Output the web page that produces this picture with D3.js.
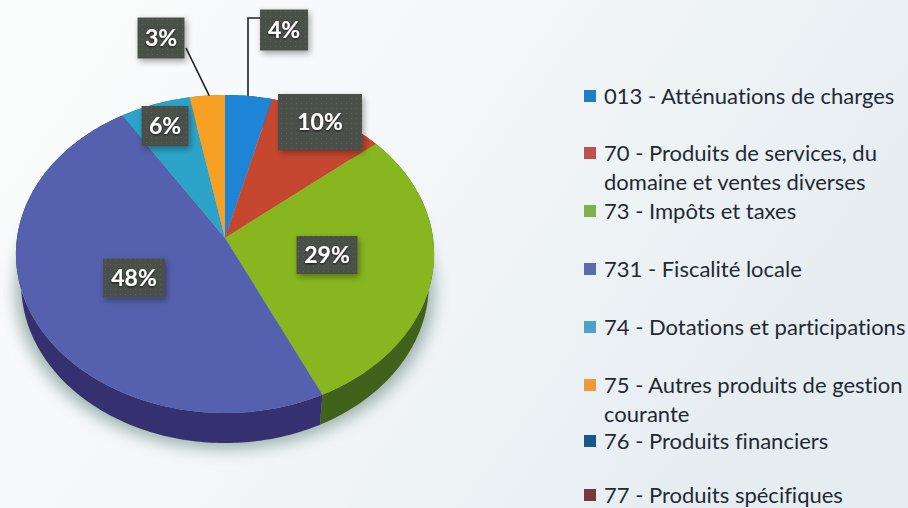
<!DOCTYPE html>
<html>
<head>
<meta charset="utf-8">
<script src="https://cdn.jsdelivr.net/npm/d3@7"></script>
<style>
  html, body { margin: 0; padding: 0; background: #f1f5f6; }
  svg { display: block; }
  text { font-family: Lato, "Open Sans", sans-serif; font-variant-ligatures: none; }
</style>
</head>
<body>
<svg></svg>
<script>
var categories = [
  ["013 - Atténuations de charges"],
  ["70 - Produits de services, du", "domaine et ventes diverses"],
  ["73 - Impôts et taxes"],
  ["731 - Fiscalité locale"],
  ["74 - Dotations et participations"],
  ["75 - Autres produits de gestion", "courante"],
  ["76 - Produits financiers"],
  ["77 - Produits spécifiques"]
];
var values = [4, 10, 29, 48, 6, 3, 0, 0];

var topColors = ["#1e84d6", "#c6472f", "#87b61f", "#5560ae", "#2ca3c9", "#f6a123", "#17598c", "#7a3b38"];
var sideColors = ["#155f9c", "#8a3020", "#41621a", "#35306f", "#1e7390", "#b0701a", "#0f3d60", "#552826"];
var legendColors = ["#1f7fc4", "#c0504d", "#7fb24a", "#5a6bb0", "#4ba3cc", "#ee9a3a", "#17598c", "#7a3b38"];

// label boxes, same order as the slices: centre x, centre y, w, h
var labelBoxes = [
  [284, 30, 48, 41],
  [320, 122, 84, 56],
  [327, 255, 61, 38],
  [134, 278, 62, 39],
  [165, 126, 47, 40],
  [161, 38, 47, 41]
];
var legendY = [96, 153, 211, 269, 327, 385, 441, 495];

var svg = d3.select("svg").attr("width", 908).attr("height", 508);
var defs = svg.append("defs");

var bg = defs.append("linearGradient").attr("id", "bg")
  .attr("x1", 0).attr("y1", 0).attr("x2", 1).attr("y2", 0.4);
bg.append("stop").attr("offset", "0%").attr("stop-color", "#fbfcfc");
bg.append("stop").attr("offset", "45%").attr("stop-color", "#f5f8f9");
bg.append("stop").attr("offset", "100%").attr("stop-color", "#e6edf1");

defs.append("filter").attr("id", "soft")
  .attr("x", "-20%").attr("y", "-20%").attr("width", "140%").attr("height", "140%")
  .append("feGaussianBlur").attr("stdDeviation", 8);

var boxShadow = defs.append("filter").attr("id", "boxShadow")
  .attr("x", "-30%").attr("y", "-30%").attr("width", "160%").attr("height", "160%");
boxShadow.append("feDropShadow").attr("dx", 2).attr("dy", 3)
  .attr("stdDeviation", 3).attr("flood-color", "#000").attr("flood-opacity", 0.35);

var txtShadow = defs.append("filter").attr("id", "txtShadow")
  .attr("x", "-30%").attr("y", "-30%").attr("width", "160%").attr("height", "160%");
txtShadow.append("feDropShadow").attr("dx", 0).attr("dy", 1)
  .attr("stdDeviation", 0.8).attr("flood-color", "#000").attr("flood-opacity", 0.7);

var dots = defs.append("pattern").attr("id", "dots")
  .attr("width", 5).attr("height", 5).attr("patternUnits", "userSpaceOnUse");
dots.append("rect").attr("width", 5).attr("height", 5).attr("fill", "#4a4f48");
dots.append("circle").attr("cx", 1.5).attr("cy", 1.5).attr("r", 0.7).attr("fill", "#5c6159");

svg.append("rect").attr("width", 908).attr("height", 508).attr("fill", "url(#bg)");

// the pie is seen in perspective: the centre of the slices sits above the centre of the outline
var apex = [225, 238], depth = 30, lowerShrink = 0.975;
var tilt = -0.1006, yScale = 157.4, xScale = 208;

function rim(angle) {
  var u = Math.sin(angle), v = -Math.cos(angle), w = 1 + tilt * v;
  return [apex[0] + xScale * u / w, apex[1] + yScale * v / w];
}
function rimPoints(a0, a1) {
  var n = Math.max(2, Math.ceil((a1 - a0) * 60));
  return d3.range(n + 1).map(function(i) { return rim(a0 + (a1 - a0) * i / n); });
}
function lowerPoint(p) {
  return [apex[0] + (p[0] - apex[0]) * lowerShrink, p[1] + depth];
}

var line = d3.line();
var arcs = d3.pie().sort(null).value(function(d) { return d; })(values);
var visible = arcs.filter(function(d) { return d.value > 0; });

// shadow under the pie
svg.append("path")
  .attr("d", line(rimPoints(0, 2 * Math.PI)) + "Z")
  .attr("transform", "translate(0," + (depth + 6) + ")")
  .attr("fill", "#7f9a94")
  .attr("opacity", 0.75)
  .attr("filter", "url(#soft)");

svg.append("g").selectAll("path")
  .data(visible)
  .enter()
  .append("path")
  .attr("d", function(d) {
    var pts = rimPoints(d.startAngle, d.endAngle);
    return line(pts.concat(pts.map(lowerPoint).reverse())) + "Z";
  })
  .attr("fill", function(d) { return sideColors[d.index]; });

svg.append("g").selectAll("path")
  .data(visible)
  .enter()
  .append("path")
  .attr("d", function(d) {
    return line([apex].concat(rimPoints(d.startAngle, d.endAngle))) + "Z";
  })
  .attr("fill", function(d) { return topColors[d.index]; });

// leader lines for the two small slices
var leaders = svg.append("g").attr("fill", "none").attr("stroke", "#1c2320").attr("stroke-width", 1.6);
var top3 = rim((arcs[5].startAngle + arcs[5].endAngle) / 2);
var top4 = rim((arcs[0].startAngle + arcs[0].endAngle) / 2);
leaders.append("path").attr("d", line([[186, 48], [top3[0] + 2, top3[1]]]));
leaders.append("path").attr("d", line([[260, 18], [248, 18], [248, top4[1]]]));

var labels = svg.append("g").selectAll("g")
  .data(visible)
  .enter()
  .append("g")
  .attr("transform", function(d) {
    var b = labelBoxes[d.index];
    return "translate(" + b[0] + "," + b[1] + ")";
  });

labels.append("rect")
  .attr("x", function(d) { return -labelBoxes[d.index][2] / 2; })
  .attr("y", function(d) { return -labelBoxes[d.index][3] / 2; })
  .attr("width", function(d) { return labelBoxes[d.index][2]; })
  .attr("height", function(d) { return labelBoxes[d.index][3]; })
  .attr("fill", "url(#dots)")
  .attr("filter", "url(#boxShadow)");

labels.append("text")
  .attr("text-anchor", "middle")
  .attr("dy", "0.36em")
  .attr("font-size", 23)
  .attr("font-weight", 700)
  .attr("fill", "#fff")
  .attr("filter", "url(#txtShadow)")
  .text(function(d) { return d.value + "%"; });

// legend
var legend = svg.append("g").selectAll("g")
  .data(categories)
  .enter()
  .append("g")
  .attr("transform", function(d, i) { return "translate(584," + legendY[i] + ")"; });

legend.append("rect")
  .attr("y", -6)
  .attr("width", 12)
  .attr("height", 12)
  .attr("fill", function(d, i) { return legendColors[i]; });

legend.selectAll("text")
  .data(function(d) { return d; })
  .enter()
  .append("text")
  .attr("x", 20)
  .attr("y", function(d, i) { return i * 29; })
  .attr("dy", "0.35em")
  .attr("font-size", 22)
  .attr("fill", "#1f2a33")
  .text(function(d) { return d; });
</script>
</body>
</html>
